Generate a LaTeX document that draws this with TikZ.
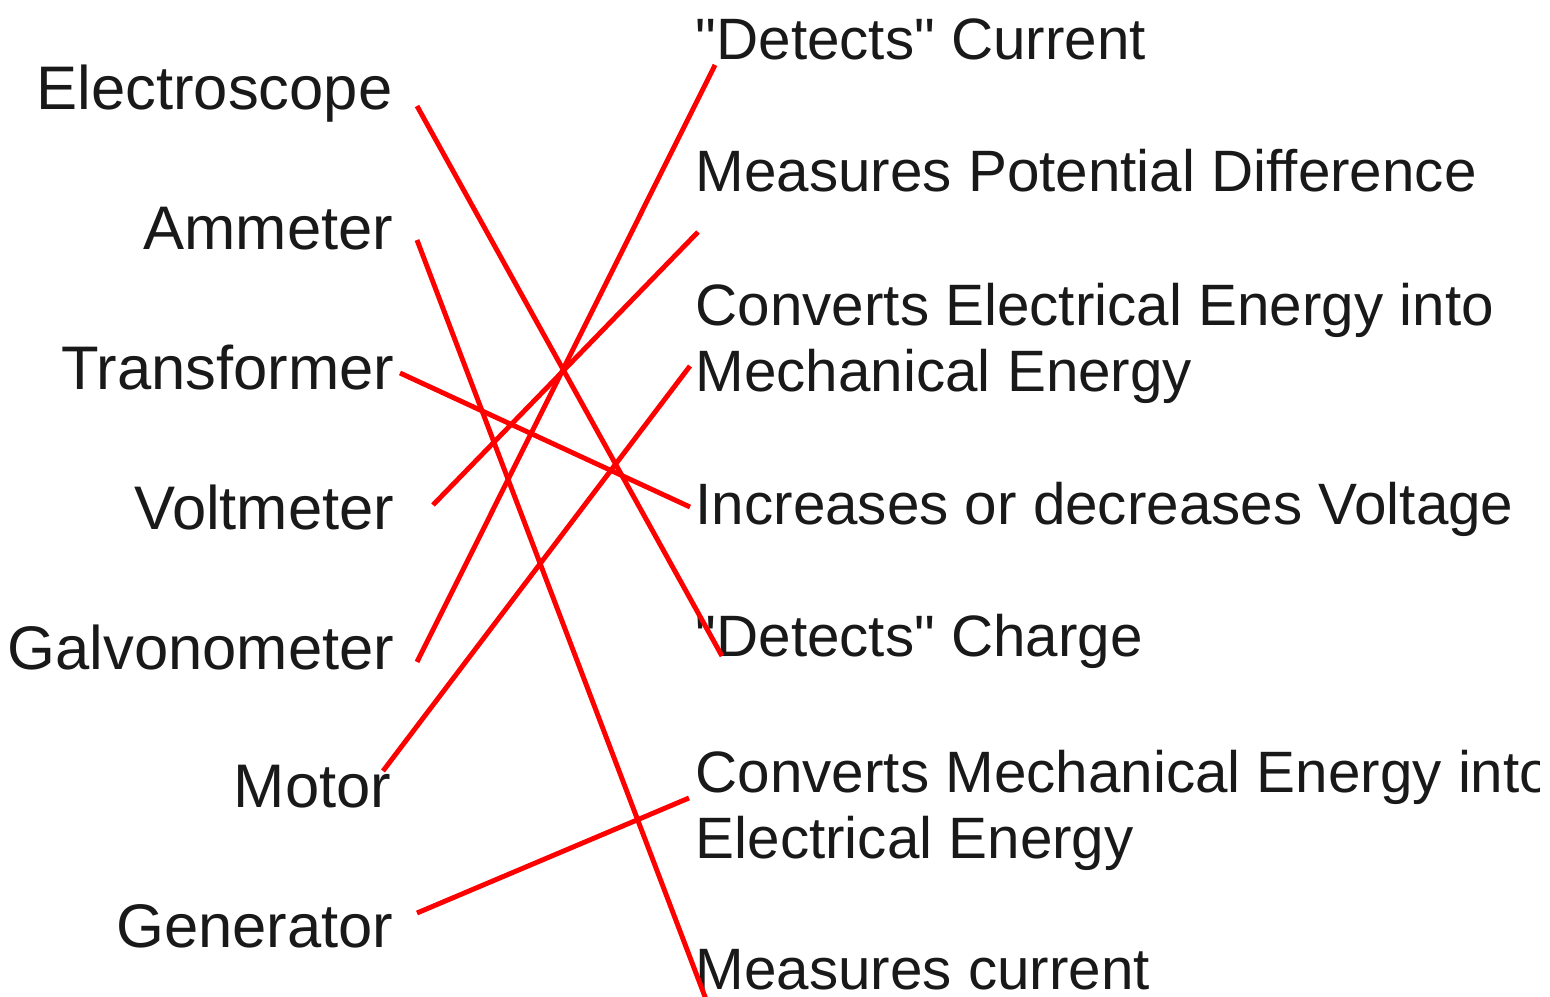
\documentclass[tikz,border=0pt]{standalone}
\usepackage{fontspec}
\setmainfont{Liberation Sans}
\usepackage{tikz}

\begin{document}
\begin{tikzpicture}[x=0.01cm, y=-0.01cm,
  device/.style={anchor=base east, inner sep=0pt, text=black!90,
    font=\fontsize{17.5}{20}\selectfont},
  use/.style={anchor=base west, inner sep=0pt, align=left, text=black!90,
    font=\fontsize{16.6}{19}\selectfont},
  match/.style={red, line width=1.4pt}
]
\useasboundingbox (0,0) rectangle (1550,997);
\clip (0,0) rectangle (1539,997);

% Colonna sinistra: strumenti
\node[device] (electroscope) at (393,110) {Electroscope};
\node[device] (ammeter) at (394,250) {Ammeter};
\node[device] (transformer) at (395,390) {Transformer};
\node[device] (voltmeter) at (395,530) {Voltmeter};
\node[device] (galvonometer) at (395,670) {Galvonometer};
\node[device] (motor) at (392,808) {Motor};
\node[device] (generator) at (394,948) {Generator};

% Colonna destra: funzioni (base = ultima riga)
\node[use] (detcurrent) at (695,60) {\textquotedbl Detects\textquotedbl{} Current};
\node[use] (potdiff) at (695,192) {Measures Potential Difference};
\node[use] (elecmech) at (695,392) {Converts Electrical Energy into\\Mechanical Energy};
\node[use] (voltage) at (695,525) {Increases or decreases Voltage};
\node[use] (detcharge) at (695,657) {\textquotedbl Detects\textquotedbl{} Charge};
\node[use] (mechelec) at (695,859) {Converts Mechanical Energy into\\Electrical Energy};
\node[use] (mescurrent) at (695,990) {Measures current};

% Estremi dei collegamenti
\coordinate (electroscope-r) at (417,106);
\coordinate (ammeter-r) at (417,240);
\coordinate (transformer-r) at (400,373);
\coordinate (voltmeter-r) at (433,505);
\coordinate (galvonometer-r) at (417,662);
\coordinate (motor-r) at (383,771);
\coordinate (generator-r) at (417,913);
\coordinate (detcurrent-l) at (715,65);
\coordinate (potdiff-l) at (698,232);
\coordinate (elecmech-l) at (690,366);
\coordinate (voltage-l) at (690,507);
\coordinate (detcharge-l) at (722,656);
\coordinate (mechelec-l) at (689,798);
\coordinate (mescurrent-l) at (707,1002);

\draw[match] (electroscope-r) -- (detcharge-l);
\draw[match] (ammeter-r) -- (mescurrent-l);
\draw[match] (transformer-r) -- (voltage-l);
\draw[match] (voltmeter-r) -- (potdiff-l);
\draw[match] (galvonometer-r) -- (detcurrent-l);
\draw[match] (motor-r) -- (elecmech-l);
\draw[match] (generator-r) -- (mechelec-l);

\end{tikzpicture}
\end{document}
